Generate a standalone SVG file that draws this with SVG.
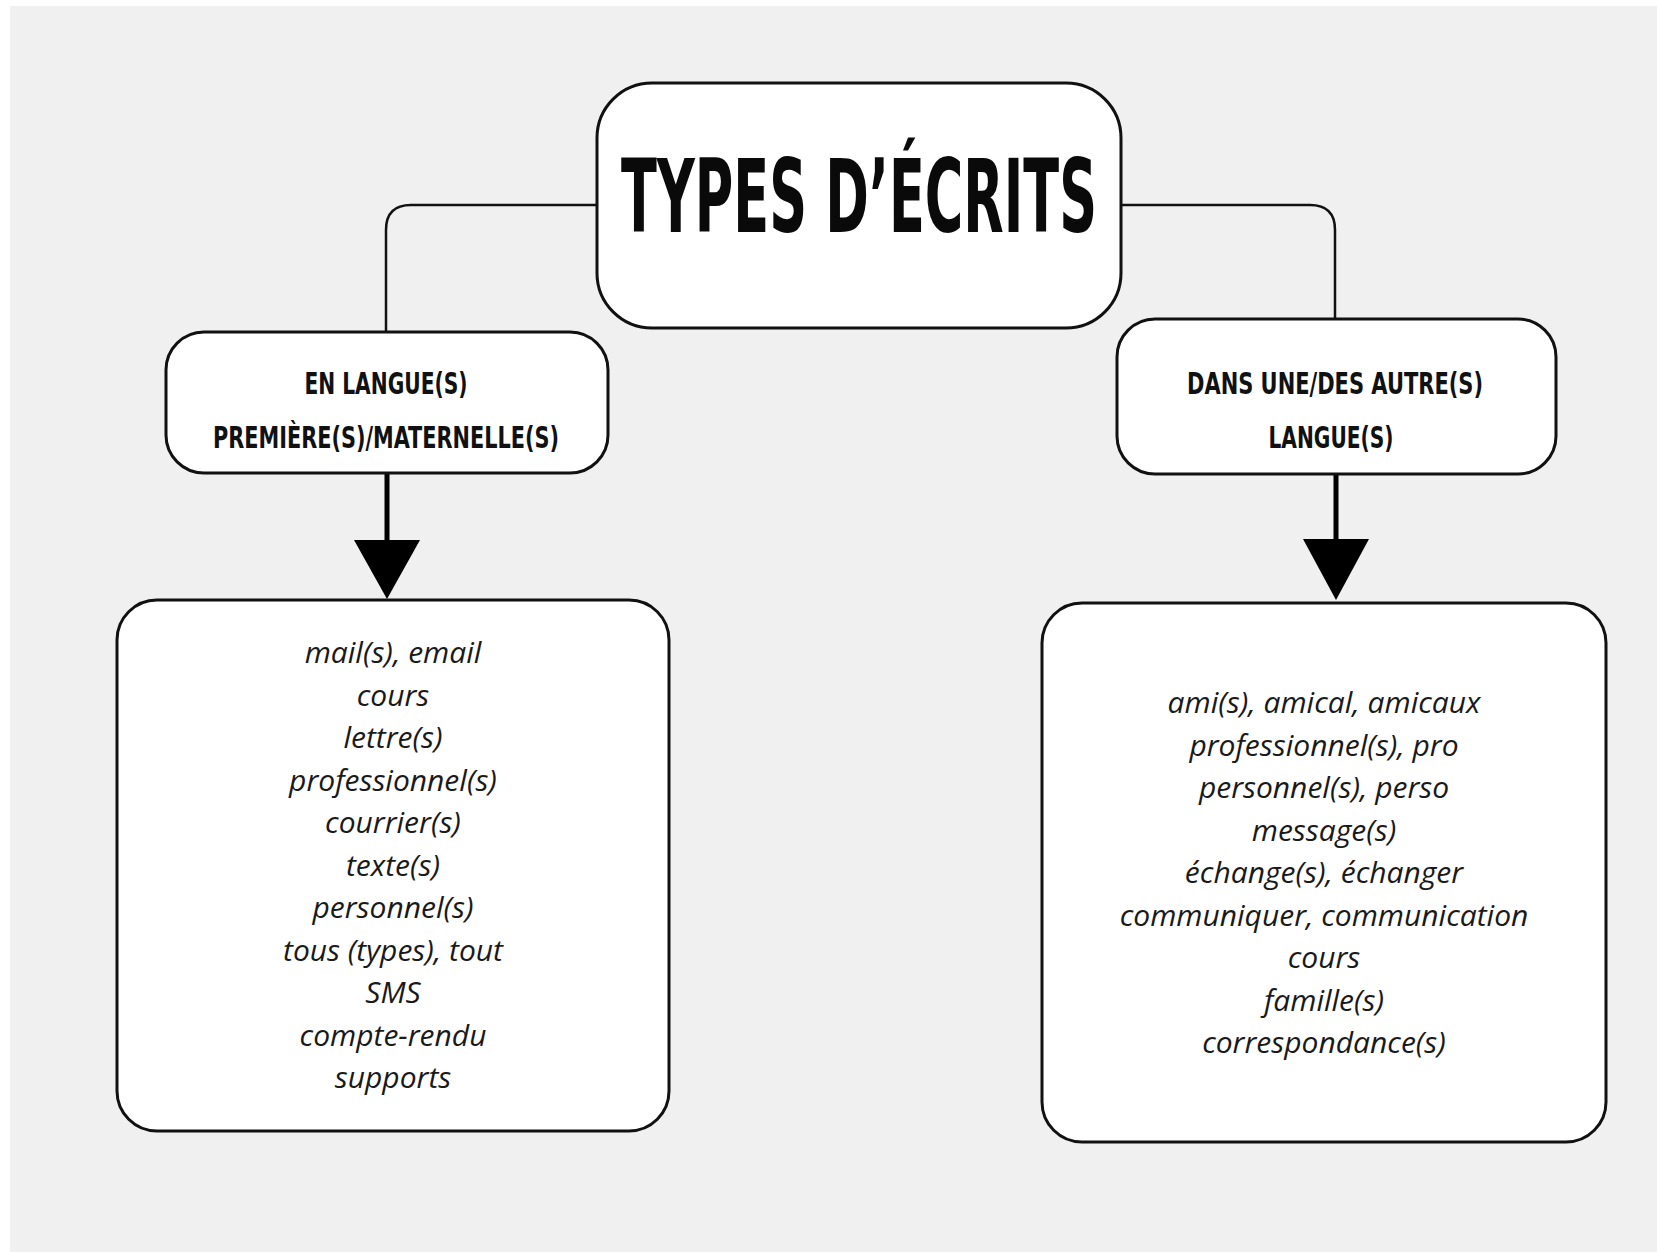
<svg xmlns="http://www.w3.org/2000/svg" width="1657" height="1252" viewBox="0 0 1657 1252">
<style>
.box{fill:#ffffff;stroke:#111111;stroke-width:3}
.conn{fill:none;stroke:#111111;stroke-width:2.5}
.arr{fill:none;stroke:#000000;stroke-width:5}
.head{fill:#000000}
.title{font-family:"Liberation Sans Narrow","DejaVu Sans Condensed","Liberation Sans",sans-serif;font-weight:bold;fill:#0a0a0a;text-anchor:middle}
.sub{font-family:"Liberation Sans Narrow","DejaVu Sans Condensed","Liberation Sans",sans-serif;font-weight:bold;font-size:30px;fill:#111111;text-anchor:middle}
.item{font-family:"Open Sans","Noto Sans","DejaVu Sans",sans-serif;font-style:italic;font-size:30px;fill:#1a1a1a;text-anchor:middle}
</style>
<rect x="0" y="0" width="1657" height="1252" fill="#ffffff"/>
<rect x="10" y="6" width="1647" height="1246" fill="#f0f0f0"/>
<g id="connectors">
<path class="conn" d="M597,205 H411 Q386,205 386,230 V332"/>
<path class="conn" d="M1121,205 H1310 Q1335,205 1335,230 V319"/>
<line class="arr" x1="387" y1="473" x2="387" y2="545"/>
<polygon class="head" points="354,540 420,540 387,599"/>
<line class="arr" x1="1336" y1="474" x2="1336" y2="545"/>
<polygon class="head" points="1303,539 1369,539 1336,600"/>
</g>
<g id="title">
<rect class="box" x="597" y="83" width="524" height="245" rx="55" ry="55"/>
<text class="title" x="859" y="232" font-size="102" textLength="476" lengthAdjust="spacingAndGlyphs">TYPES D’ÉCRITS</text>
</g>
<g id="left-heading">
<rect class="box" x="166" y="332" width="442" height="141" rx="38" ry="38"/>
<text class="sub" x="386" y="394" textLength="163" lengthAdjust="spacingAndGlyphs">EN LANGUE(S)</text>
<text class="sub" x="386" y="448" textLength="346" lengthAdjust="spacingAndGlyphs">PREMIÈRE(S)/MATERNELLE(S)</text>
</g>
<g id="right-heading">
<rect class="box" x="1117" y="319" width="439" height="155" rx="38" ry="38"/>
<text class="sub" x="1335" y="394" textLength="296" lengthAdjust="spacingAndGlyphs">DANS UNE/DES AUTRE(S)</text>
<text class="sub" x="1331" y="448" textLength="125" lengthAdjust="spacingAndGlyphs">LANGUE(S)</text>
</g>
<g id="left-list">
<rect class="box" x="117" y="600" width="552" height="531" rx="40" ry="40"/>
<text class="item" x="393" y="663">mail(s), email</text>
<text class="item" x="393" y="705.5">cours</text>
<text class="item" x="393" y="748">lettre(s)</text>
<text class="item" x="393" y="790.5">professionnel(s)</text>
<text class="item" x="393" y="833">courrier(s)</text>
<text class="item" x="393" y="875.5">texte(s)</text>
<text class="item" x="393" y="918">personnel(s)</text>
<text class="item" x="393" y="960.5">tous (types), tout</text>
<text class="item" x="393" y="1003">SMS</text>
<text class="item" x="393" y="1045.5">compte-rendu</text>
<text class="item" x="393" y="1088">supports</text>
</g>
<g id="right-list">
<rect class="box" x="1042" y="603" width="564" height="539" rx="40" ry="40"/>
<text class="item" x="1324" y="713">ami(s), amical, amicaux</text>
<text class="item" x="1324" y="755.5">professionnel(s), pro</text>
<text class="item" x="1324" y="798">personnel(s), perso</text>
<text class="item" x="1324" y="840.5">message(s)</text>
<text class="item" x="1324" y="883">échange(s), échanger</text>
<text class="item" x="1324" y="925.5">communiquer, communication</text>
<text class="item" x="1324" y="968">cours</text>
<text class="item" x="1324" y="1010.5">famille(s)</text>
<text class="item" x="1324" y="1053">correspondance(s)</text>
</g>
</svg>
